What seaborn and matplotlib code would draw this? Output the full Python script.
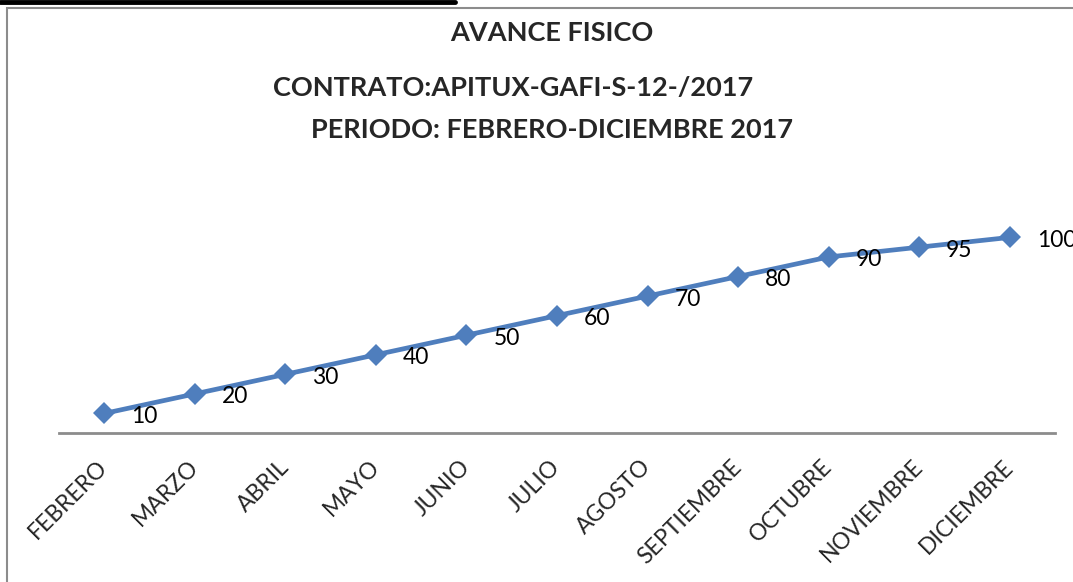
import matplotlib
matplotlib.use("Agg")
import matplotlib.pyplot as plt
import seaborn as sns
import pandas as pd
from matplotlib.patches import Rectangle
from matplotlib.lines import Line2D

meses = ["FEBRERO", "MARZO", "ABRIL", "MAYO", "JUNIO", "JULIO", "AGOSTO",
         "SEPTIEMBRE", "OCTUBRE", "NOVIEMBRE", "DICIEMBRE"]
avance = [10, 20, 30, 40, 50, 60, 70, 80, 90, 95, 100]
titulo1 = "AVANCE FISICO"
titulo2 = "CONTRATO:APITUX-GAFI-S-12-/2017"
titulo3 = "PERIODO: FEBRERO-DICIEMBRE 2017"

sns.set_style("white")
plt.rcParams['font.family'] = ['Lato', 'DejaVu Sans']

W, H = 1073, 582
fig = plt.figure(figsize=(W / 100, H / 100), dpi=100)

def fx(px):
    return px / W

def fy(py):
    return 1 - py / H

# chart frame (cropped on the right and bottom)
fig.patches.append(Rectangle((fx(7), fy(700)), fx(1200), fy(8) - fy(700),
                             transform=fig.transFigure, fill=False,
                             edgecolor="#8c8c8c", linewidth=1.5))
# thick black bar on top-left
fig.lines.append(Line2D([0, fx(455)], [fy(1.5), fy(1.5)], transform=fig.transFigure,
                        color="black", linewidth=3.5))

ax = fig.add_axes([fx(59), fy(433), fx(1055) - fx(59), (120 * 1.956) / H])
df = pd.DataFrame({"mes": meses, "avance": avance})
sns.lineplot(data=df, x="mes", y="avance", ax=ax, sort=False, color="#4F7EBD",
             linewidth=3.4, marker="D", markersize=11, markeredgewidth=0)
ax.set_xlim(-0.5, len(meses) - 0.5)
ax.set_ylim(0, 120)
ax.set_xlabel("")
ax.set_ylabel("")
ax.set_yticks([])
for s in ["top", "right", "left"]:
    ax.spines[s].set_visible(False)
ax.spines["bottom"].set_color("#8c8c8c")
ax.spines["bottom"].set_linewidth(2)
ax.tick_params(axis="x", length=0, pad=22)
ax.set_xticks(range(len(meses)))
ax.set_xticklabels(meses, rotation=45, ha="right", va="center",
                   rotation_mode="anchor", fontsize=16.5)
ax.patch.set_alpha(0)

for i, v in enumerate(avance):
    ax.annotate(str(v), (i, v), xytext=(27, -3), textcoords="offset pixels",
                ha="left", va="center", fontsize=16.5, color="black")

fig.text(fx(552), fy(33), titulo1, ha="center", va="center", fontsize=19.5, fontweight="bold")
fig.text(fx(513), fy(88), titulo2, ha="center", va="center", fontsize=19.5, fontweight="bold")
fig.text(fx(552), fy(130), titulo3, ha="center", va="center", fontsize=19.5, fontweight="bold")

fig.savefig("out.png", dpi=100)
